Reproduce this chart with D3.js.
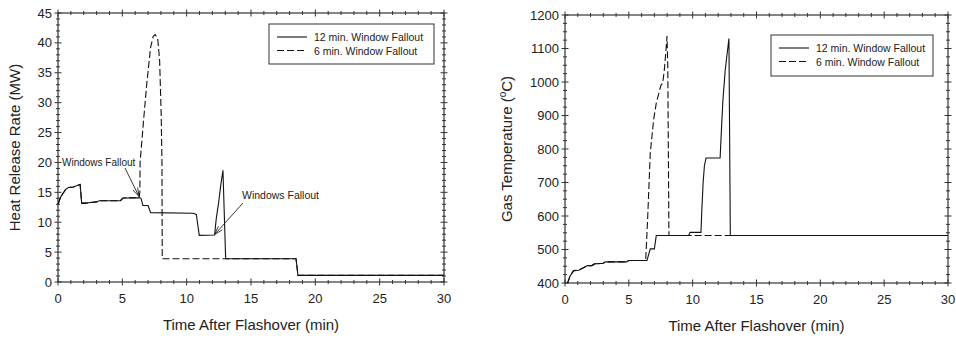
<!DOCTYPE html>
<html>
<head>
<meta charset="utf-8">
<script src="https://cdn.jsdelivr.net/npm/d3@7"></script>
<style>
  body { margin: 0; background: #fff; }
  text { font-family: "Liberation Sans", Arial, sans-serif; fill: #222; }
</style>
</head>
<body>
<svg id="chart" width="956" height="339"></svg>
<script>
// Heat release rate (MW) vs time (min)
const hrr12 = [[0,13.0],[0.2,14.2],[0.41,14.9],[0.6,15.5],[0.8,15.8],[1.2,15.9],[1.55,16.2],[1.72,16.3],[1.84,13.2],
  [2.2,13.2],[2.5,13.3],[3.0,13.4],[3.2,13.6],[4.85,13.6],[5.05,14.05],[6.35,14.1],[6.45,14.0],[6.6,12.8],[7.0,12.8],
  [7.2,11.6],[10.5,11.5],[10.75,11.3],[10.98,7.8],[12.17,7.85],[12.3,10.6],[12.48,13.2],[12.65,16.2],[12.82,18.7],
  [13.03,3.9],[18.5,3.9],[18.65,1.1],[30,1.1]]
const hrr6 = [[0,13.0],[0.2,14.2],[0.41,14.9],[0.6,15.5],[0.8,15.8],[1.2,15.9],[1.55,16.2],[1.72,16.3],[1.84,13.2],
  [2.2,13.2],[2.5,13.3],[3.0,13.4],[3.2,13.6],[4.85,13.6],[5.05,14.05],[6.3,14.1],[6.36,15],[6.38,20],[6.63,26.5],
  [6.9,33.2],[7.2,39.3],[7.4,41.1],[7.55,41.4],[7.75,40.7],[7.9,37],[8.02,28],[8.08,20],[8.1,3.9],[18.5,3.9],
  [18.65,1.1],[30,1.1]]

// Gas temperature (C) vs time (min)
const temp12 = [[0.2,400],[0.41,422],[0.68,437],[1.07,438],[1.33,443],[1.77,452],[2.1,452],[2.32,457],[3.0,459],
  [3.16,463],[4.85,463],[4.98,467],[6.42,467],[6.68,502],[7.0,502],[7.15,542],[9.68,542],[9.8,551],[10.65,551],
  [10.72,620],[10.82,700],[10.92,750],[11.05,773],[12.15,773],[12.29,887],[12.37,946],[12.55,1036],[12.84,1130],
  [12.95,542],[30,542]]
const temp6 = [[0.2,400],[0.41,422],[0.68,437],[1.07,438],[1.33,443],[1.77,452],[2.1,452],[2.32,457],[3.0,459],
  [3.16,463],[4.85,463],[4.98,467],[6.32,467],[6.47,589],[6.68,788],[6.94,887],[7.15,937],[7.52,991],[7.65,996],
  [7.78,1036],[7.93,1105],[7.99,1137],[8.05,1050],[8.14,542],[30,542]]

const timeTicks = [0, 5, 10, 15, 20, 25, 30]
const hrrTicks = [0, 5, 10, 15, 20, 25, 30, 35, 40, 45]
const tempTicks = [400, 500, 600, 700, 800, 900, 1000, 1100, 1200]
const seriesNames = ['12 min. Window Fallout', '6 min. Window Fallout']
const annotationText = 'Windows Fallout'

const svg = d3.select('#chart')
const axisColor = '#333'

function panel(opts) {
  const x = d3.scaleLinear().domain([0, 30]).range([opts.left, opts.right])
  const y = d3.scaleLinear().domain(opts.yDomain).range([opts.bottom, opts.top])
  const g = svg.append('g')

  // minor ticks on all four sides
  const xMinor = d3.range(0, 30.01, 1)
  const yMinor = d3.range(opts.yDomain[0], opts.yDomain[1] + 0.01, opts.yMinor)
  const tickG = g.append('g').attr('stroke', axisColor).attr('stroke-width', 1)
  xMinor.forEach(t => {
    const major = t % 5 === 0
    const len = major ? 3.5 : 2
    ;[opts.bottom, opts.top].forEach(yy => {
      tickG.append('line').attr('x1', x(t)).attr('x2', x(t)).attr('y1', yy - len).attr('y2', yy + len)
    })
  })
  yMinor.forEach(v => {
    const major = opts.yTicks.includes(+v.toFixed(3))
    const len = major ? 3.5 : 2
    ;[opts.left, opts.right].forEach(xx => {
      tickG.append('line').attr('y1', y(v)).attr('y2', y(v)).attr('x1', xx - len).attr('x2', xx + len)
    })
  })

  // frame
  g.append('rect')
    .attr('x', opts.left).attr('y', opts.top)
    .attr('width', opts.right - opts.left).attr('height', opts.bottom - opts.top)
    .attr('fill', 'none').attr('stroke', axisColor).attr('stroke-width', 1.2)

  // tick labels
  g.selectAll('.xl').data(timeTicks).join('text')
    .attr('x', d => x(d)).attr('y', opts.bottom + 21)
    .attr('text-anchor', 'middle').attr('font-size', 13).text(d => d)
  g.selectAll('.yl').data(opts.yTicks).join('text')
    .attr('x', opts.left - 6).attr('y', d => y(d) + 4.5)
    .attr('text-anchor', 'end').attr('font-size', 13).text(d => d)

  // axis titles
  g.append('text')
    .attr('x', (opts.left + opts.right) / 2).attr('y', opts.bottom + 48)
    .attr('text-anchor', 'middle').attr('font-size', 15)
    .text('Time After Flashover (min)')
  const yt = g.append('text')
    .attr('transform', `translate(${opts.yTitleX},${(opts.top + opts.bottom) / 2}) rotate(-90)`)
    .attr('text-anchor', 'middle').attr('font-size', 15)
  opts.yTitle(yt)

  // data lines
  const line = d3.line().x(d => x(d[0])).y(d => y(d[1]))
  g.append('path').datum(opts.dashed)
    .attr('d', line).attr('fill', 'none').attr('stroke', '#111')
    .attr('stroke-width', 1.1).attr('stroke-dasharray', '7,3')
  g.append('path').datum(opts.solid)
    .attr('d', line).attr('fill', 'none').attr('stroke', '#111').attr('stroke-width', 1.1)

  // legend
  const lg = g.append('g')
  lg.append('rect')
    .attr('x', opts.legend[0]).attr('y', opts.legend[1])
    .attr('width', opts.legend[2]).attr('height', opts.legend[3])
    .attr('fill', '#fff').attr('stroke', axisColor).attr('stroke-width', 1)
  seriesNames.forEach((name, i) => {
    const ly = opts.legend[1] + 13 + i * 13.5
    lg.append('line')
      .attr('x1', opts.legend[0] + 8).attr('x2', opts.legend[0] + 38)
      .attr('y1', ly).attr('y2', ly)
      .attr('stroke', '#111').attr('stroke-width', 1.1)
      .attr('stroke-dasharray', i === 1 ? '7,3' : null)
    lg.append('text')
      .attr('x', opts.legend[0] + 45).attr('y', ly + 4)
      .attr('font-size', 10.5).text(name)
  })

  return {x, y, g}
}

const left = panel({
  left: 58, right: 444, top: 13, bottom: 282,
  yDomain: [0, 45], yMinor: 1, yTicks: hrrTicks,
  yTitleX: 20,
  yTitle: t => t.text('Heat Release Rate (MW)'),
  solid: hrr12, dashed: hrr6,
  legend: [269, 24, 165, 40]
})

const right = panel({
  left: 565, right: 948, top: 15, bottom: 283,
  yDomain: [400, 1200], yMinor: 25, yTicks: tempTicks,
  yTitleX: 512,
  yTitle: t => {
    t.append('tspan').text('Gas Temperature (')
    t.append('tspan').attr('font-size', 10).attr('dy', -6).text('o')
    t.append('tspan').attr('dy', 6).text('C)')
  },
  solid: temp12, dashed: temp6,
  legend: [771, 35, 162, 41]
})

// annotations with arrows on the heat release panel
function arrow(g, x1, y1, x2, y2) {
  g.append('line').attr('x1', x1).attr('y1', y1).attr('x2', x2).attr('y2', y2)
    .attr('stroke', '#222').attr('stroke-width', 0.9)
  const a = Math.atan2(y2 - y1, x2 - x1)
  const len = 9, spread = 0.3
  ;[-spread, spread].forEach(s => {
    g.append('line')
      .attr('x1', x2).attr('y1', y2)
      .attr('x2', x2 - len * Math.cos(a + s)).attr('y2', y2 - len * Math.sin(a + s))
      .attr('stroke', '#222').attr('stroke-width', 0.9)
  })
}

const ann = left.g.append('g')
ann.append('text').attr('x', 62).attr('y', 166).attr('font-size', 10).text(annotationText)
arrow(ann, 125, 168, left.x(6.3), left.y(14.3))
ann.append('text').attr('x', 242).attr('y', 199).attr('font-size', 10.5).text(annotationText)
arrow(ann, 243, 203, left.x(12.17), left.y(7.95))
</script>
</body>
</html>
